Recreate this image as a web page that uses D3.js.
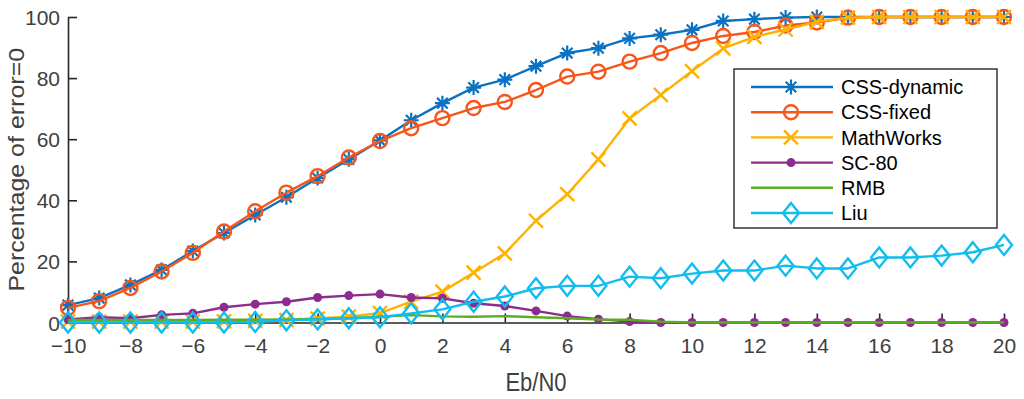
<!DOCTYPE html>
<html>
<head>
<meta charset="utf-8">
<script src="https://cdn.jsdelivr.net/npm/d3@7"></script>
<style>
  body { margin: 0; background: #fff; }
  svg { display: block; font-family: "Liberation Sans", Arial, sans-serif; }
</style>
</head>
<body>
<svg id="chart" width="1024" height="399"></svg>
<script>
// Eb/N0 values on the x axis
const ebn0 = d3.range(-10, 21);

// percentage of error=0 for each method
const cssDynamic = [5.7, 8, 12.3, 17.2, 23.4, 29.3, 35.2, 41, 47.3, 53.4, 59.6, 66.2, 71.8, 76.9, 79.5, 83.9, 88.2, 89.8, 93, 94.2, 95.8, 98.7, 99.3, 99.8, 100, 100, 100, 100, 100, 100, 100];
const cssFixed = [4.8, 7, 11.3, 16.7, 22.8, 29.8, 36.4, 42.5, 47.9, 54, 59.4, 63.6, 66.9, 70.2, 72.2, 76.1, 80.5, 82.1, 85.4, 88.2, 91.5, 93.8, 95.1, 97.2, 98.2, 99.8, 100, 100, 100, 100, 100];
const mathWorks = [0.3, 0.3, 0.3, 0.3, 0.3, 0.4, 0.5, 0.8, 1.3, 1.9, 3.1, 6.8, 10.1, 16.3, 22.6, 33.3, 42, 53.4, 66.8, 74.5, 82.3, 89.7, 93.5, 95.9, 98.4, 99.8, 100, 100, 100, 100, 100];
const sc80 = [1.0, 1.7, 1.4, 2.5, 3.0, 5.0, 6.0, 6.8, 8.2, 8.8, 9.3, 8.2, 7.9, 6.3, 5.4, 3.8, 2.1, 1.1, 0.3, 0, 0, 0, 0, 0, 0, 0, 0, 0, 0, 0, 0];
const rmb = [0.8, 0.8, 0.8, 0.8, 0.8, 0.9, 0.9, 1.0, 1.2, 1.4, 1.9, 2.4, 2.0, 1.9, 2.1, 1.7, 1.4, 1.0, 0.9, 0.3, 0, 0, 0, 0, 0, 0, 0, 0, 0, 0, 0];
const liu = [0, 0, 0, 0, 0, 0, 0.2, 0.7, 1.0, 1.4, 1.7, 3.0, 4.3, 6.8, 8.5, 11.2, 12, 12, 15, 14.5, 16, 17, 17, 18.6, 17.7, 17.7, 21.3, 21.3, 21.9, 23, 25.4];

const seriesNames = ["CSS-dynamic", "CSS-fixed", "MathWorks", "SC-80", "RMB", "Liu"];
const seriesValues = [cssDynamic, cssFixed, mathWorks, sc80, rmb, liu];
const seriesColors = ["#0b72c2", "#f7561b", "#ffb100", "#8e2b8e", "#5bae22", "#11bdee"];
const seriesMarkers = ["asterisk", "circle", "cross", "dot", "none", "diamond"];

const xTicks = d3.range(-10, 21, 2);
const yTicks = [0, 20, 40, 60, 80, 100];

const svg = d3.select("#chart");
const margin = { top: 17, right: 20, bottom: 76.5, left: 68 };
const width = 1024, height = 399;

const x = d3.scaleLinear().domain([-10, 20]).range([margin.left, width - margin.right]);
const y = d3.scaleLinear().domain([0, 100]).range([height - margin.bottom, margin.top]);

const textColor = "#404040";

// draw a marker of a given kind into a group
function drawMarker(sel, kind, color) {
  if (kind === "asterisk") {
    const r = 7.5, d = r * 0.7071;
    sel.append("path")
      .attr("d", `M${-r},0L${r},0M0,${-r}L0,${r}M${-d},${-d}L${d},${d}M${-d},${d}L${d},${-d}`)
      .attr("stroke", color).attr("stroke-width", 2.2).attr("fill", "none");
  } else if (kind === "circle") {
    sel.append("circle").attr("r", 7)
      .attr("stroke", color).attr("stroke-width", 2.4).attr("fill", "none");
  } else if (kind === "cross") {
    const r = 7;
    sel.append("path")
      .attr("d", `M${-r},${-r}L${r},${r}M${-r},${r}L${r},${-r}`)
      .attr("stroke", color).attr("stroke-width", 2.4).attr("fill", "none");
  } else if (kind === "dot") {
    sel.append("circle").attr("r", 4.5).attr("fill", color);
  } else if (kind === "diamond") {
    sel.append("path")
      .attr("d", "M0,-10L8,0L0,10L-8,0Z")
      .attr("stroke", color).attr("stroke-width", 2.4).attr("fill", "none");
  }
}

// axes (MATLAB style, ticks pointing inward)
const xAxis = svg.append("g")
  .attr("transform", `translate(0,${y(0)})`)
  .call(d3.axisBottom(x).tickValues(xTicks).tickSize(-9).tickPadding(14).tickSizeOuter(0));
const yAxis = svg.append("g")
  .attr("transform", `translate(${x(-10)},0)`)
  .call(d3.axisLeft(y).tickValues(yTicks).tickSize(-9).tickPadding(8).tickSizeOuter(0));

[xAxis, yAxis].forEach(a => {
  a.select(".domain").attr("stroke", "#262626").attr("stroke-width", 1.6);
  a.selectAll(".tick line").attr("stroke", "#262626").attr("stroke-width", 1.6);
  a.selectAll(".tick text")
    .attr("fill", textColor)
    .attr("font-size", 21)
    .attr("font-family", "Liberation Sans, Arial, sans-serif");
});
xAxis.selectAll(".tick text").attr("dy", "0.71em").attr("y", 16);
yAxis.selectAll(".tick text").attr("dy", "0.36em");

// series lines and markers
const line = d3.line().x((d, i) => x(ebn0[i])).y(d => y(d));

seriesValues.forEach((vals, s) => {
  const g = svg.append("g");
  g.append("path")
    .datum(vals)
    .attr("d", line)
    .attr("fill", "none")
    .attr("stroke", seriesColors[s])
    .attr("stroke-width", 2.4)
    .attr("stroke-linejoin", "round");
  if (seriesMarkers[s] !== "none") {
    g.selectAll("g.m")
      .data(vals)
      .enter()
      .append("g")
      .attr("class", "m")
      .attr("transform", (d, i) => `translate(${x(ebn0[i])},${y(d)})`)
      .each(function () { drawMarker(d3.select(this), seriesMarkers[s], seriesColors[s]); });
  }
});

// axis labels (slightly condensed, like the source figure)
svg.append("text")
  .attr("transform", `translate(${(x(-10) + x(20)) / 2},391) scale(0.88,1)`)
  .attr("text-anchor", "middle")
  .attr("fill", textColor)
  .attr("font-size", 25)
  .text("Eb/N0");

svg.append("text")
  .attr("transform", `translate(24,${(y(0) + y(100)) / 2}) scale(0.88,1) rotate(-90)`)
  .attr("text-anchor", "middle")
  .attr("fill", textColor)
  .attr("font-size", 25)
  .text("Percentage of error=0");

// legend
const legend = svg.append("g").attr("transform", "translate(734,69)");
legend.append("rect")
  .attr("width", 263).attr("height", 159)
  .attr("fill", "#fff").attr("stroke", "#262626").attr("stroke-width", 1.4);

seriesNames.forEach((name, i) => {
  const ly = 18 + i * 25.2;
  const row = legend.append("g").attr("transform", `translate(0,${ly})`);
  row.append("line")
    .attr("x1", 17).attr("x2", 99)
    .attr("stroke", seriesColors[i]).attr("stroke-width", 2.4);
  const m = row.append("g").attr("transform", "translate(57,0)");
  drawMarker(m, seriesMarkers[i], seriesColors[i]);
  row.append("text")
    .attr("x", 107).attr("dy", "0.36em")
    .attr("font-size", 20)
    .attr("fill", "#000")
    .text(name);
});
</script>
</body>
</html>
